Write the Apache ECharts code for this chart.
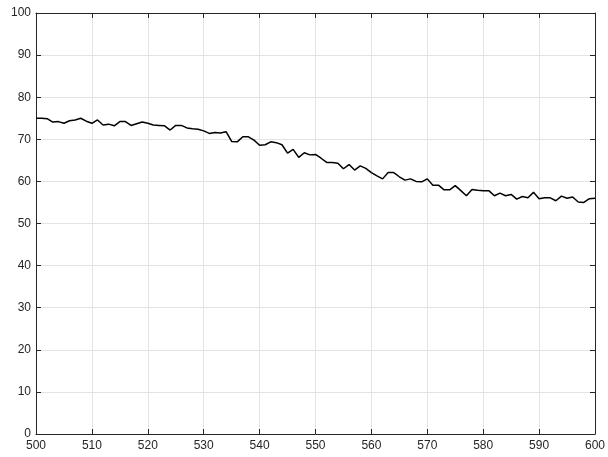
<!DOCTYPE html>
<html><head><meta charset="utf-8">
<script src="https://cdn.jsdelivr.net/npm/echarts@6/dist/echarts.min.js"></script>
<style>html,body{margin:0;padding:0;background:#fff}#c{width:608px;height:457px}</style>
</head><body><div id="c"></div>
<script>
const xStart = 500;
const values = [
75.0,75.0,74.9,74.1,74.2,73.8,74.4,74.6,75.0,74.3,
73.8,74.6,73.4,73.6,73.2,74.2,74.2,73.3,73.7,74.1,
73.8,73.4,73.3,73.2,72.2,73.3,73.3,72.7,72.5,72.4,
72.0,71.4,71.6,71.5,71.8,69.5,69.4,70.6,70.6,69.8,
68.6,68.7,69.4,69.2,68.7,66.7,67.6,65.7,66.8,66.3,
66.4,65.5,64.5,64.5,64.3,63.0,64.0,62.7,63.7,63.1,
62.1,61.3,60.6,62.1,62.1,61.1,60.3,60.6,60.0,59.9,
60.6,59.1,59.1,58.0,58.0,59.0,57.8,56.6,58.1,57.9,
57.8,57.8,56.6,57.2,56.6,56.9,55.8,56.4,56.1,57.4,
55.9,56.1,56.1,55.4,56.5,56.0,56.3,55.1,55.0,55.9,
56.0
];
const xTicks = [500,510,520,530,540,550,560,570,580,590,600];
const yTicks = [0,10,20,30,40,50,60,70,80,90,100];

const data = values.map((v,i)=>[xStart+i, v]);
const axisColor = '#262626';
const font = {fontFamily:'Liberation Sans, Arial, sans-serif', fontSize:12, color:axisColor};
function xAx(pos, show){
  return {type:'value', position:pos, min:xTicks[0], max:xTicks[xTicks.length-1], interval:10,
    axisLine:{show:true, onZero:false, lineStyle:{color:axisColor,width:1}},
    axisTick:{show:true, inside:true, length:5, lineStyle:{color:axisColor}},
    axisLabel:Object.assign({show:show, margin:6}, font),
    splitLine:{show:show, lineStyle:{color:'#e3e3e3', width:1}}};
}
function yAx(pos, show){
  return {type:'value', position:pos, min:yTicks[0], max:yTicks[yTicks.length-1], interval:10,
    axisLine:{show:true, onZero:false, lineStyle:{color:axisColor,width:1}},
    axisTick:{show:true, inside:true, length:5, lineStyle:{color:axisColor}},
    axisLabel:Object.assign({show:show, margin:5}, font),
    splitLine:{show:show, lineStyle:{color:'#e3e3e3', width:1}}};
}
const chart = echarts.init(document.getElementById('c'), null, {renderer:'canvas'});
chart.setOption({
  animation:false,
  backgroundColor:'#fff',
  grid:{left:36, right:11, top:13, bottom:23, containLabel:false},
  xAxis:[xAx('bottom', true), xAx('top', false)],
  yAxis:[yAx('left', true), yAx('right', false)],
  series:[{type:'line', data:data, xAxisIndex:0, yAxisIndex:0, showSymbol:false,
    lineStyle:{color:'#000', width:1.5}, z:5}]
});
</script></body></html>
